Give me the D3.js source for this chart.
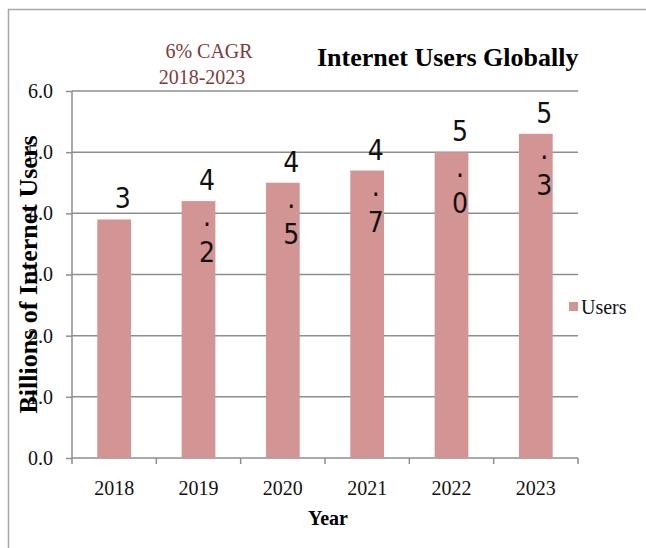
<!DOCTYPE html>
<html><head><meta charset="utf-8">
<script src="https://cdn.jsdelivr.net/npm/d3@7"></script>
<style>
html,body{margin:0;padding:0;background:#fff;}
svg{display:block;}
</style></head>
<body>
<svg id="chart" width="646" height="548"></svg>
<script>
const years = ["2018","2019","2020","2021","2022","2023"];
const users = [3.9, 4.2, 4.5, 4.7, 5.0, 5.3];
const dataLabels = ["3", "4.2", "4.5", "4.7", "5.0", "5.3"];
const yTicks = [0, 1, 2, 3, 4, 5, 6];
const titleText = "Internet Users Globally";
const noteLines = ["6% CAGR", "2018-2023"];
const seriesName = "Users";

(function(){
const SERIF = "'Liberation Serif','Times New Roman',serif";
const NARROW = "'Liberation Sans Narrow','Arial Narrow','DejaVu Sans Condensed',sans-serif";
const svg = d3.select("#chart");
const pLeft = 72, pRight = 578, pTop = 91, pBottom = 458;
const gray = "#8e8e8e";
const barColor = "#d39494";

// frame
svg.append("line").attr("x1",8.5).attr("x2",8.5).attr("y1",9).attr("y2",548).attr("stroke","#a8a8a8").attr("stroke-width",1.5);
svg.append("line").attr("x1",8).attr("x2",646).attr("y1",9.5).attr("y2",9.5).attr("stroke","#a8a8a8").attr("stroke-width",1.5);

const x = d3.scaleBand().domain(years).range([pLeft,pRight]).paddingInner(0.6).paddingOuter(0.3);
const y = d3.scaleLinear().domain([0,6]).range([pBottom,pTop]);

// gridlines
svg.append("g").selectAll("line").data(yTicks.filter(d=>d>0)).join("line")
  .attr("x1",pLeft).attr("x2",pRight).attr("y1",d=>y(d)).attr("y2",d=>y(d))
  .attr("stroke",gray).attr("stroke-width",1.5);

// y axis
const yAxis = svg.append("g").attr("transform",`translate(${pLeft},0)`)
  .call(d3.axisLeft(y).tickValues(yTicks).tickFormat(d3.format(".1f")).tickSize(6).tickPadding(13));
yAxis.select(".domain").attr("stroke",gray).attr("stroke-width",1.5).attr("d",`M0,${pTop}V${pBottom}`);
yAxis.selectAll(".tick line").attr("stroke",gray).attr("stroke-width",1.5);
yAxis.selectAll(".tick text").style("font-size","20px").style("font-family",SERIF).attr("fill","#111");

// x axis
const step = x.step();
const xEdges = years.map(d=>x(d)-step*x.paddingInner()/2).concat([pRight]);
const xAxisG = svg.append("g").attr("transform",`translate(0,${pBottom})`);
xAxisG.append("line").attr("x1",pLeft).attr("x2",pRight).attr("y1",0).attr("y2",0).attr("stroke",gray).attr("stroke-width",1.5);
xAxisG.selectAll(".tk").data(xEdges).join("line").attr("class","tk")
  .attr("x1",d=>d).attr("x2",d=>d).attr("y1",0).attr("y2",6).attr("stroke",gray).attr("stroke-width",1.5);
xAxisG.selectAll(".lbl").data(years).join("text").attr("class","lbl")
  .attr("x",d=>x(d)+x.bandwidth()/2).attr("y",37).attr("text-anchor","middle")
  .style("font-size","20px").style("font-family",SERIF).attr("fill","#111").text(d=>d);

// bars
svg.append("g").selectAll("rect").data(users).join("rect")
  .attr("x",(d,i)=>x(years[i])).attr("width",x.bandwidth())
  .attr("y",d=>y(d)).attr("height",d=>pBottom-y(d)).attr("fill",barColor);

// data labels (wrapped one char per line)
const lg = svg.append("g").attr("fill","#111").attr("text-anchor","middle");
users.forEach((v,i)=>{
  const chars = dataLabels[i].split("");
  const cx = x(years[i])+x.bandwidth()/2+8.5;
  const t = lg.append("text").attr("x",cx).attr("y",y(v)-11)
    .style("font-family",NARROW).style("font-size","28px").style("font-stretch","condensed");
  chars.forEach((c,j)=>{
    t.append("tspan").attr("x",cx).attr("dy", j===0?0:36).text(c);
  });
});

// title
svg.append("text").attr("x",317).attr("y",66).style("font-family",SERIF).style("font-size","26px").style("font-weight","bold").attr("fill","#000").text(titleText);
// note
svg.append("text").attr("x",209).attr("y",58).attr("text-anchor","middle").style("font-family",SERIF).style("font-size","20px").attr("fill","#7d3b3b").text(noteLines[0]);
svg.append("text").attr("x",202).attr("y",84).attr("text-anchor","middle").style("font-family",SERIF).style("font-size","20px").attr("fill","#7d3b3b").text(noteLines[1]);

// axis titles
svg.append("text").attr("transform",`translate(37,${(pTop+pBottom)/2}) rotate(-90)`).attr("text-anchor","middle")
  .style("font-family",SERIF).style("font-size","26px").style("font-weight","bold").attr("fill","#000").text("Billions of Internet Users");
svg.append("text").attr("x",(pLeft+pRight)/2+3).attr("y",525).attr("text-anchor","middle")
  .style("font-family",SERIF).style("font-size","20px").style("font-weight","bold").attr("fill","#000").text("Year");

// legend
svg.append("rect").attr("x",569).attr("y",302).attr("width",9).attr("height",9).attr("fill",barColor);
svg.append("text").attr("x",581).attr("y",314).style("font-family",SERIF).style("font-size","20px").attr("fill","#111").text(seriesName);
})();
</script>
</body></html>
